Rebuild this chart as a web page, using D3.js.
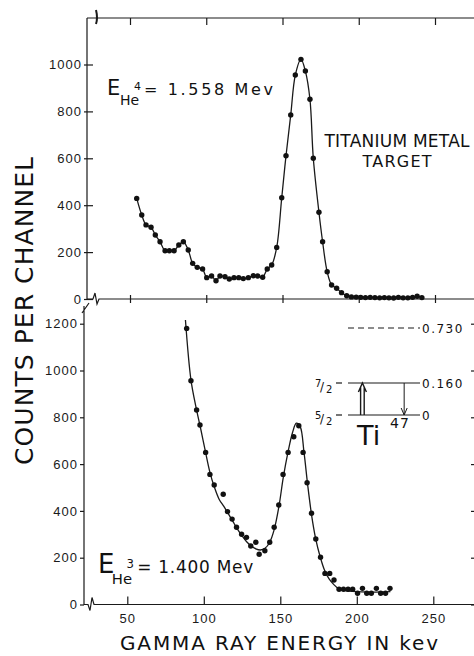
<!doctype html>
<html lang="en">
<head>
  <meta charset="utf-8" />
  <title>Ti47 gamma spectra</title>
  <script src="https://d3js.org/d3.v7.min.js"></script>
  <style>
    body { margin: 0; background: #fff; }
    svg { display: block; font-family: "DejaVu Sans", sans-serif; }
    .axis path { display: none; }
    .axis line, .frame { stroke: #1a1a1a; stroke-width: 1.2; fill: none; }
    .axis text { font-size: 13px; fill: #1a1a1a; letter-spacing: 1px; }
    .line { fill: none; stroke: #1a1a1a; stroke-width: 1.3; }
    .dot { fill: #111; }
    .lbl { fill: #111; }
  </style>
</head>
<body>
<script>

  // top panel: He4 beam, 1.558 Mev
  var topEnergy = [54.4, 57.7, 60.5, 63.8, 66.6, 69.7, 73.0, 75.8, 78.9, 82.0, 85.0, 88.2, 91.1, 94.1, 97.6,
    100.3, 103.5, 106.4, 109.0, 112.3, 115.1, 118.2, 121.3, 124.3, 127.6, 130.9, 133.7, 137.0, 140.0, 142.9,
    146.2, 149.5, 152.3, 155.4, 158.4, 162.1, 165.0, 168.0, 170.2, 173.9, 176.3, 179.3, 182.2, 185.5, 188.7,
    192.1, 195.2, 198.3, 201.3, 204.4, 207.5, 210.6, 213.7, 216.8, 219.8, 222.9, 226.0, 229.1, 232.2, 235.3,
    238.3, 241.4];
  var topCounts = [429, 358, 316, 306, 273, 244, 206, 206, 206, 230, 244, 209, 152, 135, 128,
    91, 98, 78, 98, 95, 85, 91, 91, 87, 91, 99, 98, 93, 128, 145,
    220, 432, 611, 785, 955, 1022, 972, 852, 600, 370, 244, 116, 60, 46, 27,
    14, 9, 8, 7, 6, 7, 6, 5, 6, 5, 4, 7, 5, 5, 7,
    12, 6];

  // bottom panel: He3 beam, 1.400 Mev
  var botEnergy = [88.8, 91.6, 95.3, 97.5, 101.2, 104.0, 106.8, 112.7, 115.5, 118.5, 121.4, 124.7, 127.9, 130.7,
    134.0, 136.2, 139.9, 143.1, 146.0, 149.0, 151.8, 155.1, 158.8, 162.1, 164.9, 167.5, 170.4, 173.2,
    176.3, 179.2, 182.3, 185.1, 188.4, 191.3, 194.3, 197.3, 200.5, 203.7, 206.5, 209.5, 212.8, 215.6,
    218.8, 221.7];
  var botCounts = [1180, 956, 831, 767, 650, 556, 511, 471, 397, 365, 330, 300, 287, 250,
    266, 215, 230, 266, 330, 425, 556, 650, 717, 764, 650, 520, 390, 280,
    202, 133, 133, 105, 65, 65, 65, 65, 48, 69, 48, 48, 69, 48,
    48, 69];

  // smooth curve drawn through the bottom spectrum
  var fitEnergy = [88, 91.6, 95, 98, 101, 104, 107, 110, 113, 116, 119, 122, 125, 128, 131, 134, 137, 140,
    143, 146, 149, 152, 155, 158, 160.5, 163, 165.5, 168, 170.5, 173, 176, 179, 182, 185, 188, 191,
    195, 200, 210, 222];
  var fitCounts = [1216, 960, 840, 750, 655, 565, 500, 450, 420, 388, 355, 322, 293, 268, 250, 238, 233, 240,
    265, 320, 415, 545, 650, 735, 775, 760, 650, 505, 380, 285, 205, 145, 108, 85, 68, 60,
    57, 55, 53, 55];

  var energyTicks = [50, 100, 150, 200, 250];
  var topCountTicks = [0, 200, 400, 600, 800, 1000];
  var botCountTicks = [0, 200, 400, 600, 800, 1000, 1200];

  // level scheme of Ti47 (Mev)
  var levelEnergy = [0, 0.160, 0.730];
  var levelLabel = ["0", "0.160", "0.730"];
  var levelSpin = ["5/2", "7/2", null];
  var transitions = [
    { from: 0, to: 0.160, pos: 0.2, kind: "up" },
    { from: 0.160, to: 0, pos: 0.78, kind: "down" }
  ];

  var width = 474, height = 656;
  var fmt = d3.format("d");

  var svg = d3.select("body").append("svg")
    .attr("width", width)
    .attr("height", height);

  var xTop = d3.scaleLinear().domain([50, 250]).range([130, 435]);
  var xBot = d3.scaleLinear().domain([50, 250]).range([127.3, 433.3]);
  var yTop = d3.scaleLinear().domain([0, 1000]).range([299, 64.5]);
  var yBot = d3.scaleLinear().domain([0, 1200]).range([604.5, 323.7]);

  var topAxisX = 87, botAxisX = 84, frameY = 18;

  // ---- frame and axes, top panel
  svg.append("g")
    .attr("class", "axis")
    .attr("transform", "translate(0," + frameY + ")")
    .call(d3.axisTop(xTop).tickValues(energyTicks).tickSize(-7).tickFormat(""));

  svg.append("g")
    .attr("class", "axis")
    .attr("transform", "translate(0," + yTop(0) + ")")
    .call(d3.axisBottom(xTop).tickValues(energyTicks).tickSize(0).tickFormat(""))
    .selectAll(".tick line").attr("y1", -4).attr("y2", 4);

  svg.append("g")
    .attr("class", "axis")
    .attr("transform", "translate(" + topAxisX + ",0)")
    .call(d3.axisLeft(yTop).tickValues(topCountTicks).tickSize(0).tickPadding(5).tickFormat(fmt))
    .selectAll(".tick line").attr("x1", -3).attr("x2", 6);

  var fy0 = yTop(0);
  svg.append("path").attr("class", "frame")
    .attr("d", "M" + topAxisX + "," + frameY + "H" + width +
      "M" + topAxisX + "," + frameY + "V" + (fy0 + 1) +
      "M" + topAxisX + "," + fy0 + "H93L95," + (fy0 - 6) + "L97," + (fy0 + 5) + "L99," + fy0 + "H" + width);
  // break mark on the top frame
  svg.append("path").attr("class", "frame").style("stroke-width", 2)
    .attr("d", "M96," + (frameY - 8) + "Q98," + frameY + " 96," + (frameY + 6));

  // ---- axes, bottom panel
  svg.append("g")
    .attr("class", "axis")
    .attr("transform", "translate(" + botAxisX + ",0)")
    .call(d3.axisLeft(yBot).tickValues(botCountTicks).tickSize(4).tickPadding(2).tickFormat(fmt));

  svg.append("g")
    .attr("class", "axis")
    .attr("transform", "translate(0," + yBot(0) + ")")
    .call(d3.axisBottom(xBot).tickValues(energyTicks).tickSize(-8).tickPadding(9).tickFormat(fmt));

  svg.append("g")
    .attr("class", "axis")
    .attr("transform", "translate(476,0)")
    .call(d3.axisRight(yBot).tickValues(botCountTicks).tickSize(-5).tickFormat(""));

  var by0 = yBot(0);
  svg.append("path").attr("class", "frame")
    .attr("d", "M" + botAxisX + ",306V" + by0 + "H88L90," + (by0 + 6) + "L92," + (by0 - 7) + "L94," + by0 + "H" + width +
      "M82,313L89,303");

  // ---- data
  var lineTop = d3.line()
    .x(function(d) { return xTop(d.e); })
    .y(function(d) { return yTop(d.c); })
    .curve(d3.curveCatmullRom.alpha(0.5));

  var lineBot = d3.line()
    .x(function(d) { return xBot(d.e); })
    .y(function(d) { return yBot(d.c); })
    .curve(d3.curveCatmullRom.alpha(0.5));

  var topData = topEnergy.map(function(e, i) { return { e: e, c: topCounts[i] }; });
  var botData = botEnergy.map(function(e, i) { return { e: e, c: botCounts[i] }; });
  var fitData = fitEnergy.map(function(e, i) { return { e: e, c: fitCounts[i] }; });

  svg.append("path").datum(topData).attr("class", "line").attr("d", lineTop);
  svg.append("path").datum(fitData).attr("class", "line").attr("d", lineBot);

  svg.append("g").selectAll("circle")
    .data(topData)
    .enter().append("circle")
    .attr("class", "dot")
    .attr("cx", function(d) { return xTop(d.e); })
    .attr("cy", function(d) { return yTop(d.c); })
    .attr("r", 2.7);

  svg.append("g").selectAll("circle")
    .data(botData)
    .enter().append("circle")
    .attr("class", "dot")
    .attr("cx", function(d) { return xBot(d.e); })
    .attr("cy", function(d) { return yBot(d.c); })
    .attr("r", 2.7);

  // ---- axis titles
  svg.append("text").attr("class", "lbl")
    .attr("transform", "translate(33,311) rotate(-90)")
    .attr("text-anchor", "middle")
    .attr("textLength", 308).attr("lengthAdjust", "spacing")
    .style("font-size", "25px")
    .text("COUNTS PER CHANNEL");

  svg.append("text").attr("class", "lbl")
    .attr("x", 279).attr("y", 650)
    .attr("text-anchor", "middle")
    .attr("textLength", 318).attr("lengthAdjust", "spacing")
    .style("font-size", "20px")
    .text("GAMMA RAY ENERGY IN kev");

  // ---- beam energy labels
  function beamLabel(x, y, big, mass, rest, restLen, k) {
    var g = svg.append("g").attr("class", "lbl");
    g.append("text").attr("x", x).attr("y", y).style("font-size", big + "px").text("E");
    g.append("text").attr("x", x + 13 * k).attr("y", y + 10 * k).style("font-size", (14 * k) + "px").text("He");
    g.append("text").attr("x", x + 27 * k).attr("y", y - 5 * k).style("font-size", (11 * k) + "px").text(mass);
    g.append("text").attr("x", x + 37 * k).attr("y", y)
      .attr("textLength", restLen).attr("lengthAdjust", "spacing")
      .style("font-size", (16 * k) + "px").text(rest);
  }
  beamLabel(107, 95, 21, "4", "= 1.558 Mev", 129, 1);
  beamLabel(98, 573, 26, "3", "= 1.400 Mev", 116, 1.06);

  svg.append("text").attr("class", "lbl")
    .attr("x", 397).attr("y", 147).attr("text-anchor", "middle")
    .attr("textLength", 145).attr("lengthAdjust", "spacing")
    .style("font-size", "17px").text("TITANIUM METAL");
  svg.append("text").attr("class", "lbl")
    .attr("x", 397).attr("y", 167).attr("text-anchor", "middle")
    .attr("textLength", 69).attr("lengthAdjust", "spacing")
    .style("font-size", "16px").text("TARGET");

  // ---- level scheme inset
  var yLevel = d3.scaleLinear().domain(levelEnergy).range([415, 383, 328]);
  var xLevel = d3.scaleLinear().domain([0, 1]).range([348, 420]);

  var inset = svg.append("g");

  inset.selectAll("line.level")
    .data(levelEnergy)
    .enter().append("line")
    .attr("class", "frame")
    .attr("x1", xLevel(0)).attr("x2", xLevel(1))
    .attr("y1", function(d) { return yLevel(d); })
    .attr("y2", function(d) { return yLevel(d); })
    .style("stroke-dasharray", function(d, i) { return levelSpin[i] ? null : "6,4"; });

  inset.selectAll("text.level")
    .data(levelEnergy)
    .enter().append("text")
    .attr("class", "lbl")
    .attr("x", xLevel(1) + 2)
    .attr("y", function(d) { return yLevel(d) + 4.5; })
    .style("font-size", "12px")
    .style("letter-spacing", "1.5px")
    .text(function(d, i) { return levelLabel[i]; });

  levelEnergy.forEach(function(d, i) {
    if (!levelSpin[i]) return;
    var y = yLevel(d), parts = levelSpin[i].split("/");
    var t = inset.append("text").attr("class", "lbl").style("font-size", "10px");
    t.append("tspan").attr("x", 315).attr("y", y + 4).text(parts[0]);
    t.append("tspan").attr("x", 320).attr("y", y + 8).style("font-size", "12px").text("/");
    t.append("tspan").attr("x", 326).attr("y", y + 10).text(parts[1]);
    inset.append("line").attr("class", "frame")
      .attr("x1", 336).attr("x2", 342).attr("y1", y).attr("y2", y);
  });

  transitions.forEach(function(t) {
    var x = xLevel(t.pos), y1 = yLevel(t.from), y2 = yLevel(t.to);
    if (t.kind === "up") {
      inset.append("path").attr("class", "frame").style("stroke-width", 1.4)
        .attr("d", "M" + (x - 1.8) + "," + y1 + "V" + (y2 + 4) + "M" + (x + 1.8) + "," + y1 + "V" + (y2 + 4) +
          "M" + (x - 4) + "," + (y2 + 9) + "L" + x + "," + y2 + "L" + (x + 4) + "," + (y2 + 9));
    } else {
      inset.append("path").attr("class", "frame").style("stroke-width", 1)
        .attr("d", "M" + x + "," + y1 + "V" + y2 +
          "M" + (x - 3) + "," + (y2 - 7) + "L" + x + "," + y2 + "L" + (x + 3) + "," + (y2 - 7));
    }
  });

  inset.append("text").attr("class", "lbl")
    .attr("x", 357).attr("y", 445)
    .style("font-size", "27px").text("Ti");
  inset.append("text").attr("class", "lbl")
    .attr("x", 390).attr("y", 428)
    .style("font-size", "14px").style("letter-spacing", "1px").text("47");

</script>
</body>
</html>
